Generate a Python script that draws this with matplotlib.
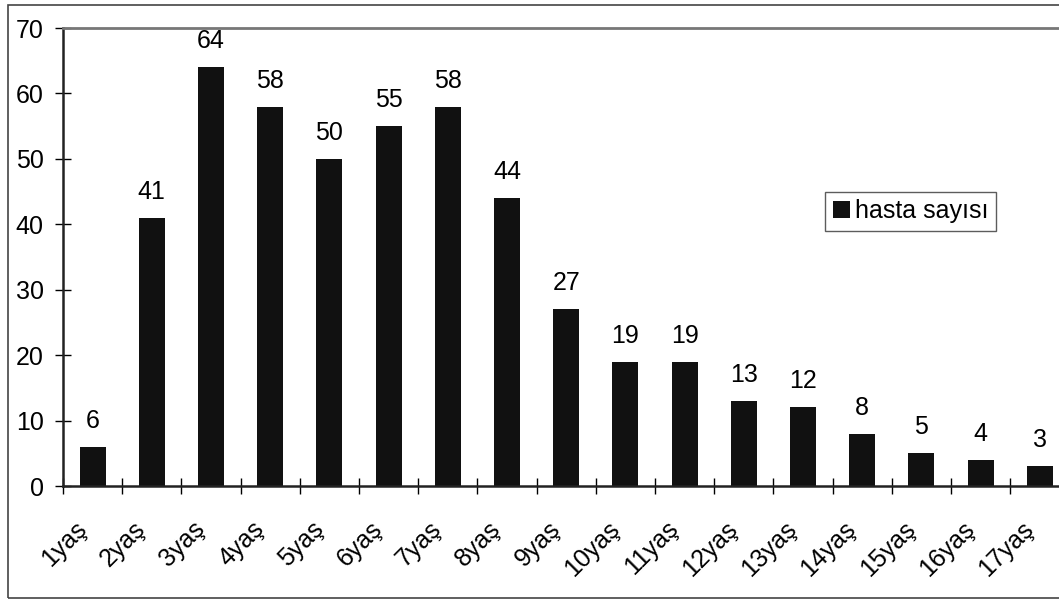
import numpy as np
import matplotlib.pyplot as plt
from matplotlib.patches import Rectangle
from matplotlib.transforms import ScaledTranslation

plt.rcParams['font.family'] = ['Liberation Sans', 'DejaVu Sans']

ages = ["1yaş", "2yaş", "3yaş", "4yaş", "5yaş", "6yaş", "7yaş", "8yaş", "9yaş",
        "10yaş", "11yaş", "12yaş", "13yaş", "14yaş", "15yaş", "16yaş", "17yaş"]
hasta_sayisi = [6, 41, 64, 58, 50, 55, 58, 44, 27, 19, 19, 13, 12, 8, 5, 4, 3]

W, H = 1059, 601
fig = plt.figure(figsize=(W / 100, H / 100), dpi=100)

# plot area in pixels: left 63, one category = 59.2 px (last one runs past the edge),
# 70 at y=28, 0 at y=486
left, right = 63 / W, (63 + 17 * 59.2) / W
bottom, top = 1 - 486 / H, 1 - 28 / H
ax = fig.add_axes([left, bottom, right - left, top - bottom])

x = np.arange(len(ages))
ax.bar(x, hasta_sayisi, width=0.44, color='#111111', label='hasta sayısı', zorder=2)
for xi, v in zip(x, hasta_sayisi):
    ax.annotate(str(v), (xi, v), xytext=(0, 19), textcoords='offset pixels',
                ha='center', va='baseline', fontsize=18)

ax.set_xlim(-0.5, len(ages) - 0.5)
ax.set_ylim(0, 70)
ax.set_yticks(range(0, 71, 10))
ax.tick_params(axis='y', direction='inout', length=12, width=1, labelsize=18, pad=8)

# ticks sit on the category boundaries, labels under the category centres
ax.set_xticks(np.arange(len(ages) + 1) - 0.5)
ax.set_xticklabels([])
ax.tick_params(axis='x', direction='inout', length=12, width=1)
ax.set_xticks(x, minor=True)
ax.set_xticklabels(ages, minor=True, rotation=45, ha='right', va='center',
                   rotation_mode='anchor', fontsize=18)
ax.tick_params(axis='x', which='minor', length=0, pad=0)
shift = ScaledTranslation(-0.10, -0.39, fig.dpi_scale_trans)
for lab in ax.get_xticklabels(minor=True):
    lab.set_transform(lab.get_transform() + shift)

ax.spines['right'].set_visible(False)
ax.spines['top'].set_color('#777777')
ax.spines['top'].set_linestyle((0, (1, 1)))
ax.spines['top'].set_linewidth(2)
for s in ['left', 'bottom']:
    ax.spines[s].set_color('#222222')
    ax.spines[s].set_linewidth(1.8)

leg = ax.legend(loc='upper left', bbox_to_anchor=(825 / W, 1 - 192 / H),
                bbox_transform=fig.transFigure, fontsize=18, frameon=True,
                fancybox=False, handlelength=0.7, handleheight=0.7,
                handletextpad=0.2, borderpad=0.3, borderaxespad=0)
leg.get_frame().set_edgecolor('#333333')
leg.get_frame().set_linewidth(1)

# outer chart frame
fig.patches.append(Rectangle((8 / W, 3 / H), 1.2, 1 - 8 / H, transform=fig.transFigure,
                             fill=False, edgecolor='#444444', linewidth=1.2))

fig.savefig('out.png', dpi=100)
